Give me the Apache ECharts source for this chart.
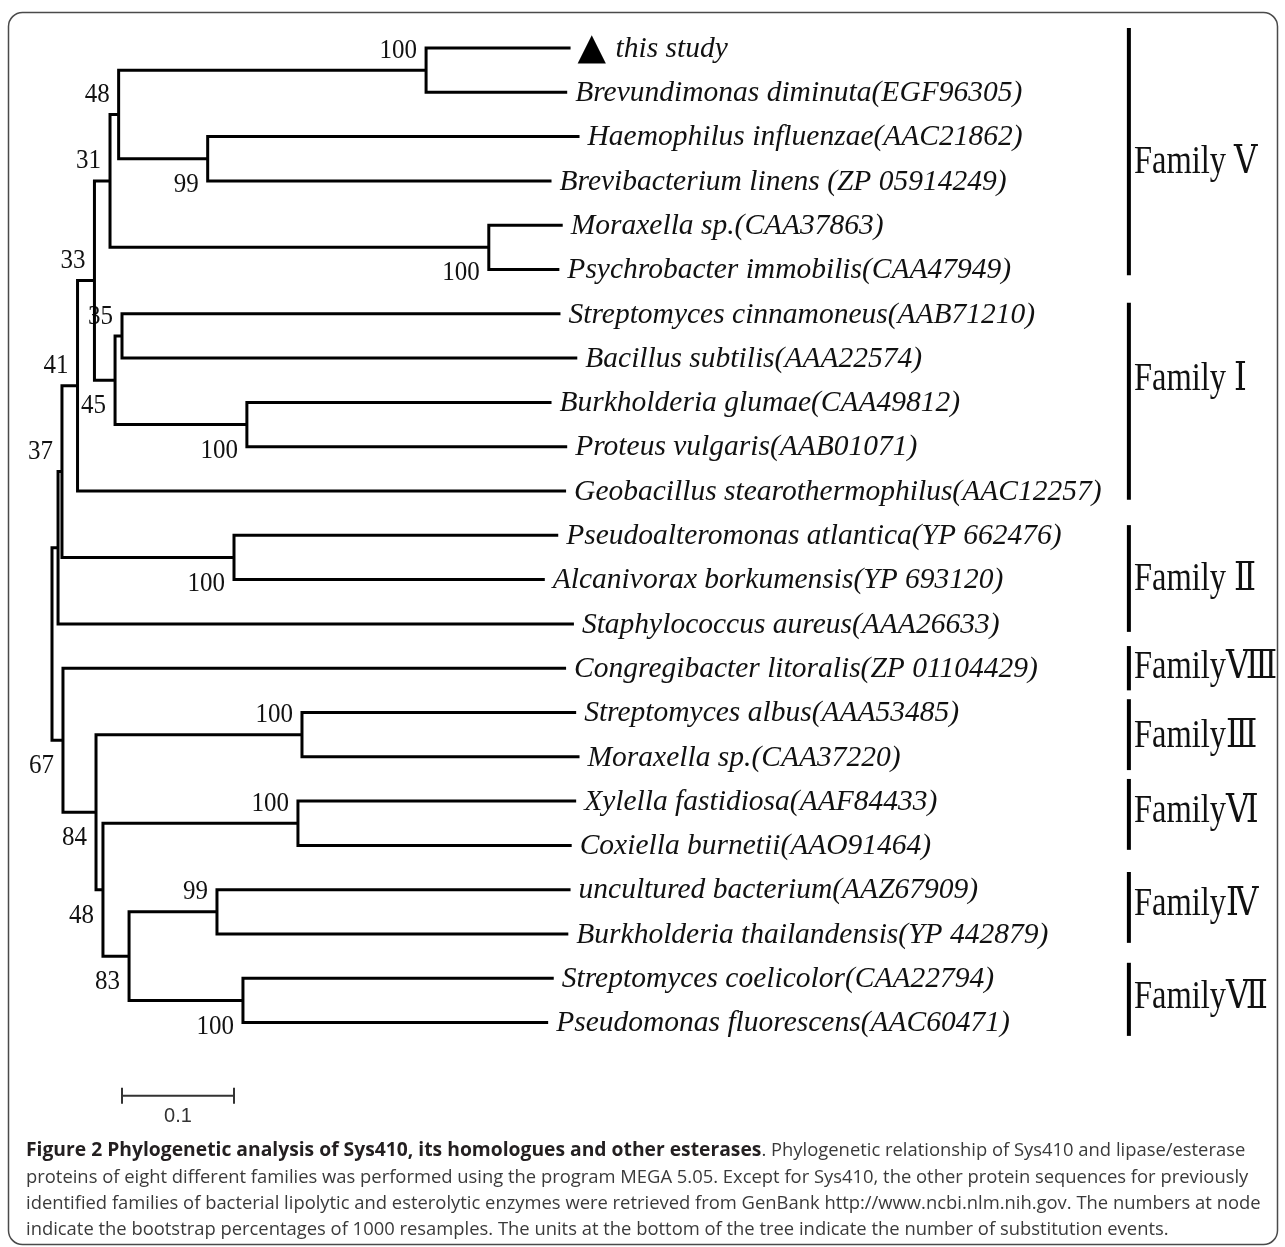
<!DOCTYPE html>
<html>
<head>
<meta charset="utf-8">
<script src="https://cdn.jsdelivr.net/npm/echarts@6/dist/echarts.min.js"></script>
<style>
html,body{margin:0;padding:0;background:#fff;}
#chart{width:1285px;height:1247px;}
</style>
</head>
<body>
<div id="chart"></div>
<script>
// ---------------- DATA ----------------
// Leaves (top to bottom)
const leafNames = [
  'this study',
  'Brevundimonas diminuta(EGF96305)',
  'Haemophilus influenzae(AAC21862)',
  'Brevibacterium linens (ZP 05914249)',
  'Moraxella sp.(CAA37863)',
  'Psychrobacter immobilis(CAA47949)',
  'Streptomyces cinnamoneus(AAB71210)',
  'Bacillus subtilis(AAA22574)',
  'Burkholderia glumae(CAA49812)',
  'Proteus vulgaris(AAB01071)',
  'Geobacillus stearothermophilus(AAC12257)',
  'Pseudoalteromonas atlantica(YP 662476)',
  'Alcanivorax borkumensis(YP 693120)',
  'Staphylococcus aureus(AAA26633)',
  'Congregibacter litoralis(ZP 01104429)',
  'Streptomyces albus(AAA53485)',
  'Moraxella sp.(CAA37220)',
  'Xylella fastidiosa(AAF84433)',
  'Coxiella burnetii(AAO91464)',
  'uncultured bacterium(AAZ67909)',
  'Burkholderia thailandensis(YP 442879)',
  'Streptomyces coelicolor(CAA22794)',
  'Pseudomonas fluorescens(AAC60471)'
];
// distance of each leaf tip from the root (substitutions per site)
const leafDepth = [0.463,0.460,0.471,0.446,0.456,0.453,0.454,0.469,0.446,0.460,0.459,
                   0.452,0.440,0.466,0.459,0.468,0.471,0.468,0.464,0.463,0.461,0.448,0.443];

// Internal nodes: indices 0..22 are leaves, 23.. are these nodes in order
const nodeChildren = [
  [0,1],    // 23
  [2,3],    // 24
  [23,24],  // 25
  [4,5],    // 26
  [25,26],  // 27
  [6,7],    // 28
  [8,9],    // 29
  [28,29],  // 30
  [27,30],  // 31
  [31,10],  // 32
  [11,12],  // 33
  [32,33],  // 34
  [34,13],  // 35
  [15,16],  // 36
  [17,18],  // 37
  [19,20],  // 38
  [21,22],  // 39
  [38,39],  // 40
  [37,40],  // 41
  [36,41],  // 42
  [14,42],  // 43
  [35,43]   // 44 root
];
const nodeDepth = [0.334,0.139,0.0595,0.390,0.0518,0.0625,0.174,0.0563,0.0379,0.0228,
                   0.1625,0.0089,0.0054,0.2232,0.2196,0.1473,0.1705,0.0688,0.0455,0.0393,0.0098,0];
const nodeSupport = [100,99,48,100,31,35,100,45,33,41,100,37,null,100,100,99,100,83,48,84,67,null];
// where the bootstrap value is printed relative to the node's stem
const supportSide = ['above','below','above','below','above','above','below','below','above','above',
                     'below','above','above','above','above','above','below','below','below','below','below','above'];

// Family groups
const familyNames = ['Family \u2164','Family \u2160','Family \u2161','Family\u2167','Family\u2162','Family\u2165','Family\u2163','Family\u2166'];
const familyTop    = [-0.45, 5.75, 10.77, 13.5, 14.7, 16.5, 18.6, 20.65];
const familyBottom = [5.13, 10.2, 13.18, 14.5, 16.3, 18.1, 20.2, 22.3];
const familyLabelRow = [2.6, 7.5, 12.0, 14.0, 15.55, 17.25, 19.35, 21.45];

// Scale bar
const scaleBarLength = 0.1;
const scaleBarLabel = '0.1';

// Caption
const captionTitle = 'Figure 2 Phylogenetic analysis of Sys410, its homologues and other esterases';
const captionLines = [
  '. Phylogenetic relationship of Sys410 and lipase/esterase',
  'proteins of eight different families was performed using the program MEGA 5.05. Except for Sys410, the other protein sequences for previously',
  'identified families of bacterial lipolytic and esterolytic enzymes were retrieved from GenBank http://www.ncbi.nlm.nih.gov. The numbers at node',
  'indicate the bootstrap percentages of 1000 resamples. The units at the bottom of the tree indicate the number of substitution events.'
];

// ---------------- LAYOUT ----------------
const nLeaf = leafNames.length;
const allDepth = leafDepth.concat(nodeDepth);
const allY = leafNames.map(function (_, i) { return i; });
nodeChildren.forEach(function (ch) { allY.push((allY[ch[0]] + allY[ch[1]]) / 2); });

const familyBarX = 0.9615;   // in axis units
const scaleBarStart = 0.0625;
const scaleBarRow = 23.65;

const SERIF = '"Liberation Serif","Times New Roman",serif';
const NUMERAL_SERIF = '"Liberation Serif","DejaVu Serif","Times New Roman",serif';
const CAP_FONT = '"Open Sans","Noto Sans",sans-serif';
const CAP_SIZE = 18.4;
const chart = echarts.init(document.getElementById('chart'), null, {renderer: 'canvas'});

const option = {
  animation: false,
  backgroundColor: '#fff',
  grid: {left: 52, top: 48, width: 1120, height: 974.6},
  xAxis: {type: 'value', min: 0, max: 1, show: false},
  yAxis: {type: 'value', min: 0, max: 22, inverse: true, show: false},
  graphic: [
    {type: 'rect', shape: {x: 8.5, y: 12.5, width: 1269, height: 1232, r: 14},
     style: {fill: null, stroke: '#4a4a4a', lineWidth: 1.5}, silent: true},
    {type: 'text', x: 26, y: 1151, style: {
      text: '{b|' + captionTitle + '}{n|' + captionLines[0] + '}',
      rich: {
        b: {fontWeight: 'bold', fill: '#231f20', fontFamily: CAP_FONT, fontSize: 19.3},
        n: {fill: '#3a3a3a', fontFamily: CAP_FONT, fontSize: CAP_SIZE}
      },
      fontFamily: CAP_FONT, fontSize: CAP_SIZE, fill: '#3a3a3a', verticalAlign: 'middle'}},
    {type: 'text', x: 26, y: 1177.5, style: {text: captionLines[1], fontFamily: CAP_FONT, fontSize: CAP_SIZE, fill: '#3a3a3a', verticalAlign: 'middle'}},
    {type: 'text', x: 26, y: 1203.5, style: {text: captionLines[2], fontFamily: CAP_FONT, fontSize: CAP_SIZE, fill: '#3a3a3a', verticalAlign: 'middle'}},
    {type: 'text', x: 26, y: 1229.5, style: {text: captionLines[3], fontFamily: CAP_FONT, fontSize: CAP_SIZE, fill: '#3a3a3a', verticalAlign: 'middle'}}
  ],
  series: [
    // branches + bootstrap values
    {
      type: 'custom',
      coordinateSystem: 'cartesian2d',
      clip: false,
      data: nodeChildren.map(function (_, k) { return [nodeDepth[k], allY[nLeaf + k], k]; }),
      renderItem: function (params, api) {
        const k = api.value(2);
        const c1 = nodeChildren[k][0], c2 = nodeChildren[k][1];
        const p1 = api.coord([allDepth[c1], allY[c1]]);
        const n1 = api.coord([nodeDepth[k], allY[c1]]);
        const n2 = api.coord([nodeDepth[k], allY[c2]]);
        const p2 = api.coord([allDepth[c2], allY[c2]]);
        const children = [{
          type: 'polyline',
          shape: {points: [p1, n1, n2, p2]},
          style: {stroke: '#000', lineWidth: 3, fill: null, lineJoin: 'miter', lineCap: 'butt'}
        }];
        if (nodeSupport[k] !== null) {
          const s = api.coord([nodeDepth[k], allY[nLeaf + k]]);
          children.push({
            type: 'text',
            x: s[0] - 9,
            y: s[1] + (supportSide[k] === 'above' ? -19.5 : 26),
            scaleY: 1.08,
            style: {text: String(nodeSupport[k]), align: 'right', verticalAlign: 'middle',
                    fontFamily: SERIF, fontSize: 25, fill: '#111'}
          });
        }
        return {type: 'group', children: children};
      }
    },
    // leaf labels
    {
      type: 'custom',
      coordinateSystem: 'cartesian2d',
      clip: false,
      data: leafNames.map(function (_, i) { return [leafDepth[i], i, i]; }),
      renderItem: function (params, api) {
        const i = api.value(2);
        const p = api.coord([leafDepth[i], i]);
        if (i === 0) {
          return {type: 'group', children: [
            {type: 'text', x: p[0] + 7, y: p[1] + 1, style: {text: '\u25B2', align: 'left', verticalAlign: 'middle',
              fontFamily: '"DejaVu Sans"', fontSize: 37, fill: '#000'}},
            {type: 'text', x: p[0] + 45, y: p[1] + 1, style: {text: leafNames[i], align: 'left', verticalAlign: 'middle',
              fontFamily: SERIF, fontStyle: 'italic', fontSize: 29.5, fill: '#111'}}
          ]};
        }
        return {type: 'text', x: p[0] + 8, y: p[1] + 1,
          style: {text: leafNames[i], align: 'left', verticalAlign: 'middle',
                  fontFamily: SERIF, fontStyle: 'italic', fontSize: 29.5, fill: '#111'}};
      }
    },
    // family brackets
    {
      type: 'custom',
      coordinateSystem: 'cartesian2d',
      clip: false,
      data: familyNames.map(function (_, j) { return [familyBarX, familyTop[j], familyBottom[j], j]; }),
      renderItem: function (params, api) {
        const j = api.value(3);
        const a = api.coord([familyBarX, familyTop[j]]);
        const b = api.coord([familyBarX, familyBottom[j]]);
        const t = api.coord([familyBarX, familyLabelRow[j]]);
        return {type: 'group', children: [
          {type: 'line', shape: {x1: a[0], y1: a[1], x2: b[0], y2: b[1]}, style: {stroke: '#000', lineWidth: 4}},
          {type: 'text', x: t[0] + 5, y: t[1], scaleY: 1.2, style: {text: familyNames[j], align: 'left', verticalAlign: 'middle',
            fontFamily: NUMERAL_SERIF, fontSize: 32.5, fill: '#111'}}
        ]};
      }
    },
    // scale bar
    {
      type: 'custom',
      coordinateSystem: 'cartesian2d',
      clip: false,
      data: [[scaleBarStart, scaleBarRow, scaleBarLength]],
      renderItem: function (params, api) {
        const a = api.coord([api.value(0), api.value(1)]);
        const b = api.coord([api.value(0) + api.value(2), api.value(1)]);
        const st = {stroke: '#333', lineWidth: 2};
        return {type: 'group', children: [
          {type: 'line', shape: {x1: a[0], y1: a[1], x2: b[0], y2: b[1]}, style: st},
          {type: 'line', shape: {x1: a[0], y1: a[1] - 8, x2: a[0], y2: a[1] + 8}, style: st},
          {type: 'line', shape: {x1: b[0], y1: b[1] - 8, x2: b[0], y2: b[1] + 8}, style: st},
          {type: 'text', x: (a[0] + b[0]) / 2, y: a[1] + 21, style: {text: scaleBarLabel, align: 'center', verticalAlign: 'middle',
            fontFamily: '"Liberation Sans Narrow","Liberation Sans",Arial,sans-serif', fontSize: 20, fill: '#333'}}
        ]};
      }
    }
  ]
};
chart.setOption(option);
</script>
</body>
</html>
